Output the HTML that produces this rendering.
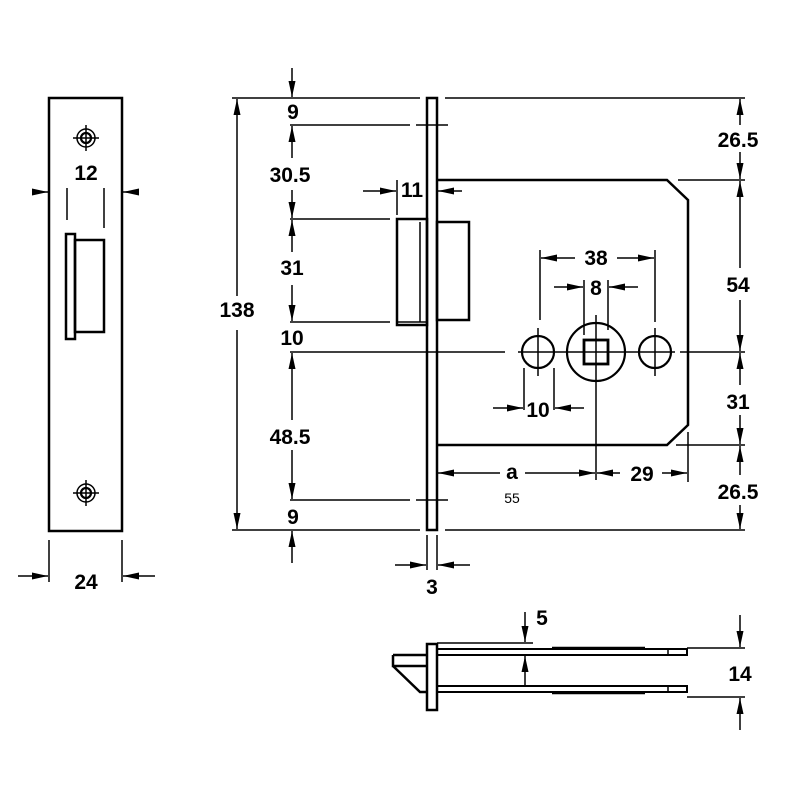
<!DOCTYPE html>
<html><head><meta charset="utf-8"><style>
body{margin:0;background:#fff}
svg{display:block}
text{font-family:"Liberation Sans",sans-serif;font-weight:bold;font-size:21px;fill:#000;text-anchor:middle}
</style></head><body>
<svg width="800" height="800" viewBox="0 0 800 800" xmlns="http://www.w3.org/2000/svg">
<defs>
<marker id="a" viewBox="0 0 16 7" refX="16" refY="3.5" markerWidth="16" markerHeight="7" markerUnits="userSpaceOnUse" orient="auto-start-reverse"><path d="M0,0L16,3.5L0,7z" fill="#000"/></marker>
</defs>
<g fill="none" stroke="#000" stroke-width="1.5">
<!-- faceplate left -->
<rect x="49" y="98" width="73" height="433" stroke-width="2.5"/>
<circle cx="86" cy="138" r="9"/><circle cx="86" cy="138" r="5" stroke-width="2.2"/>
<line x1="73" y1="138" x2="99" y2="138"/><line x1="86" y1="125" x2="86" y2="151"/>
<circle cx="86" cy="493" r="9"/><circle cx="86" cy="493" r="5" stroke-width="2.2"/>
<line x1="73" y1="493" x2="99" y2="493"/><line x1="86" y1="480" x2="86" y2="506"/>
<rect x="66" y="234" width="9" height="105" stroke-width="2.5"/>
<rect x="75" y="240" width="29" height="92" stroke-width="2.5"/>
<line x1="67" y1="188" x2="67" y2="220"/><line x1="104" y1="188" x2="104" y2="228"/>
<line x1="32" y1="192" x2="48" y2="192" marker-end="url(#a)"/>
<line x1="138" y1="192" x2="123" y2="192" marker-end="url(#a)"/>
<line x1="49" y1="540" x2="49" y2="582"/><line x1="122" y1="540" x2="122" y2="582"/>
<line x1="18" y1="576" x2="48" y2="576" marker-end="url(#a)"/>
<line x1="155" y1="576" x2="123" y2="576" marker-end="url(#a)"/>

<!-- main forend -->
<rect x="427" y="98" width="10" height="432" stroke-width="2.5"/>
<path d="M437,180 L667,180 L688,200 L688,425 L667,445 L437,445" stroke-width="2.5"/>
<rect x="397" y="219" width="30" height="106" stroke-width="2.5"/>
<line x1="420" y1="222" x2="420" y2="322"/><line x1="397" y1="322" x2="427" y2="322"/>
<rect x="437" y="222" width="32" height="98" stroke-width="2.5"/>
<circle cx="538" cy="352" r="16" stroke-width="2.2"/>
<circle cx="596" cy="352" r="29" stroke-width="2.2"/>
<rect x="584" y="340" width="24" height="24" stroke-width="2.8"/>
<circle cx="655" cy="352" r="16" stroke-width="2.2"/>
<!-- center / ext lines -->
<line x1="290" y1="352" x2="505" y2="352"/><line x1="518" y1="352" x2="675" y2="352"/><line x1="680" y1="352" x2="745" y2="352"/>
<line x1="538" y1="328" x2="538" y2="376"/><line x1="655" y1="328" x2="655" y2="376"/>
<line x1="596" y1="315" x2="596" y2="480"/>
<line x1="540" y1="250" x2="540" y2="320"/><line x1="655" y1="250" x2="655" y2="322"/>
<line x1="584" y1="280" x2="584" y2="335"/><line x1="608" y1="280" x2="608" y2="330"/>
<line x1="524" y1="368" x2="524" y2="410"/><line x1="554" y1="368" x2="554" y2="410"/>
<line x1="232" y1="98" x2="420" y2="98"/><line x1="445" y1="98" x2="745" y2="98"/>
<line x1="290" y1="125" x2="410" y2="125"/><line x1="416" y1="125" x2="448" y2="125"/>
<line x1="290" y1="219" x2="390" y2="219"/>
<line x1="290" y1="322" x2="390" y2="322"/>
<line x1="290" y1="500" x2="410" y2="500"/><line x1="416" y1="500" x2="448" y2="500"/>
<line x1="232" y1="530" x2="420" y2="530"/><line x1="445" y1="530" x2="745" y2="530"/>
<line x1="678" y1="180" x2="745" y2="180"/><line x1="676" y1="445" x2="745" y2="445"/>
<line x1="688" y1="432" x2="688" y2="482"/>
<line x1="397" y1="180" x2="397" y2="215"/>
<!-- vertical dims left -->
<line x1="237" y1="300" x2="237" y2="99" marker-end="url(#a)"/>
<line x1="237" y1="330" x2="237" y2="529" marker-end="url(#a)"/>
<line x1="292" y1="68" x2="292" y2="97" marker-end="url(#a)"/>
<line x1="292" y1="158" x2="292" y2="126" marker-end="url(#a)"/>
<line x1="292" y1="190" x2="292" y2="218" marker-end="url(#a)"/>
<line x1="292" y1="252" x2="292" y2="220" marker-end="url(#a)"/>
<line x1="292" y1="285" x2="292" y2="321" marker-end="url(#a)"/>
<line x1="292" y1="420" x2="292" y2="353" marker-end="url(#a)"/>
<line x1="292" y1="450" x2="292" y2="499" marker-end="url(#a)"/>
<line x1="292" y1="563" x2="292" y2="531" marker-end="url(#a)"/>
<!-- right vertical dims -->
<line x1="740" y1="125" x2="740" y2="99" marker-end="url(#a)"/>
<line x1="740" y1="152" x2="740" y2="179" marker-end="url(#a)"/>
<line x1="740" y1="268" x2="740" y2="181" marker-end="url(#a)"/>
<line x1="740" y1="300" x2="740" y2="351" marker-end="url(#a)"/>
<line x1="740" y1="385" x2="740" y2="353" marker-end="url(#a)"/>
<line x1="740" y1="415" x2="740" y2="444" marker-end="url(#a)"/>
<line x1="740" y1="475" x2="740" y2="446" marker-end="url(#a)"/>
<line x1="740" y1="505" x2="740" y2="529" marker-end="url(#a)"/>
<!-- horizontal dims -->
<line x1="363" y1="191" x2="396" y2="191" marker-end="url(#a)"/>
<line x1="462" y1="191" x2="438" y2="191" marker-end="url(#a)"/>
<line x1="575" y1="258" x2="541" y2="258" marker-end="url(#a)"/>
<line x1="617" y1="258" x2="654" y2="258" marker-end="url(#a)"/>
<line x1="554" y1="287" x2="583" y2="287" marker-end="url(#a)"/>
<line x1="638" y1="287" x2="609" y2="287" marker-end="url(#a)"/>
<line x1="493" y1="408" x2="523" y2="408" marker-end="url(#a)"/>
<line x1="584" y1="408" x2="555" y2="408" marker-end="url(#a)"/>
<line x1="500" y1="473" x2="438" y2="473" marker-end="url(#a)"/>
<line x1="525" y1="473" x2="595" y2="473" marker-end="url(#a)"/>
<line x1="620" y1="473" x2="597" y2="473" marker-end="url(#a)"/>
<line x1="662" y1="473" x2="687" y2="473" marker-end="url(#a)"/>
<line x1="427" y1="535" x2="427" y2="570"/><line x1="437" y1="535" x2="437" y2="570"/>
<line x1="395" y1="565" x2="426" y2="565" marker-end="url(#a)"/>
<line x1="470" y1="565" x2="438" y2="565" marker-end="url(#a)"/>
<!-- bottom view -->
<rect x="427" y="644" width="10" height="66" stroke-width="2.5"/>
<path d="M393,655 L427,655 M393,655 L393,666 L427,666 M393,666 L420,692 L427,692" stroke-width="2.5"/>
<line x1="437" y1="643" x2="533" y2="643"/>
<rect x="437" y="649" width="250" height="6" stroke-width="2"/>
<rect x="437" y="686" width="250" height="6" stroke-width="2"/>
<line x1="668" y1="649" x2="668" y2="655"/><line x1="668" y1="686" x2="668" y2="692"/>
<line x1="552" y1="648" x2="645" y2="648" stroke-width="2.5"/><line x1="552" y1="693" x2="645" y2="693" stroke-width="2.5"/>
<line x1="687" y1="648" x2="745" y2="648"/><line x1="687" y1="697" x2="745" y2="697"/>
<line x1="525" y1="612" x2="525" y2="642" marker-end="url(#a)"/>
<line x1="525" y1="685" x2="525" y2="656" marker-end="url(#a)"/>
<line x1="740" y1="615" x2="740" y2="647" marker-end="url(#a)"/>
<line x1="740" y1="730" x2="740" y2="698" marker-end="url(#a)"/>
</g>
<rect x="214" y="296" width="44" height="26" fill="#fff"/>
<text x="86" y="180">12</text>
<text x="86" y="589">24</text>
<text x="293" y="119">9</text>
<text x="290" y="182">30.5</text>
<text x="292" y="275">31</text>
<text x="292" y="345">10</text>
<text x="290" y="444">48.5</text>
<text x="293" y="524">9</text>
<text x="237" y="317">138</text>
<text x="412" y="197">11</text>
<text x="596" y="265">38</text>
<text x="596" y="295">8</text>
<text x="538" y="417">10</text>
<text x="512" y="479">a</text>
<text x="512" y="503" style="font-size:14px;font-weight:normal">55</text>
<text x="642" y="481">29</text>
<text x="738" y="147">26.5</text>
<text x="738" y="292">54</text>
<text x="738" y="409">31</text>
<text x="738" y="499">26.5</text>
<text x="432" y="594">3</text>
<text x="542" y="625">5</text>
<text x="740" y="681">14</text>
</svg>
</body></html>
